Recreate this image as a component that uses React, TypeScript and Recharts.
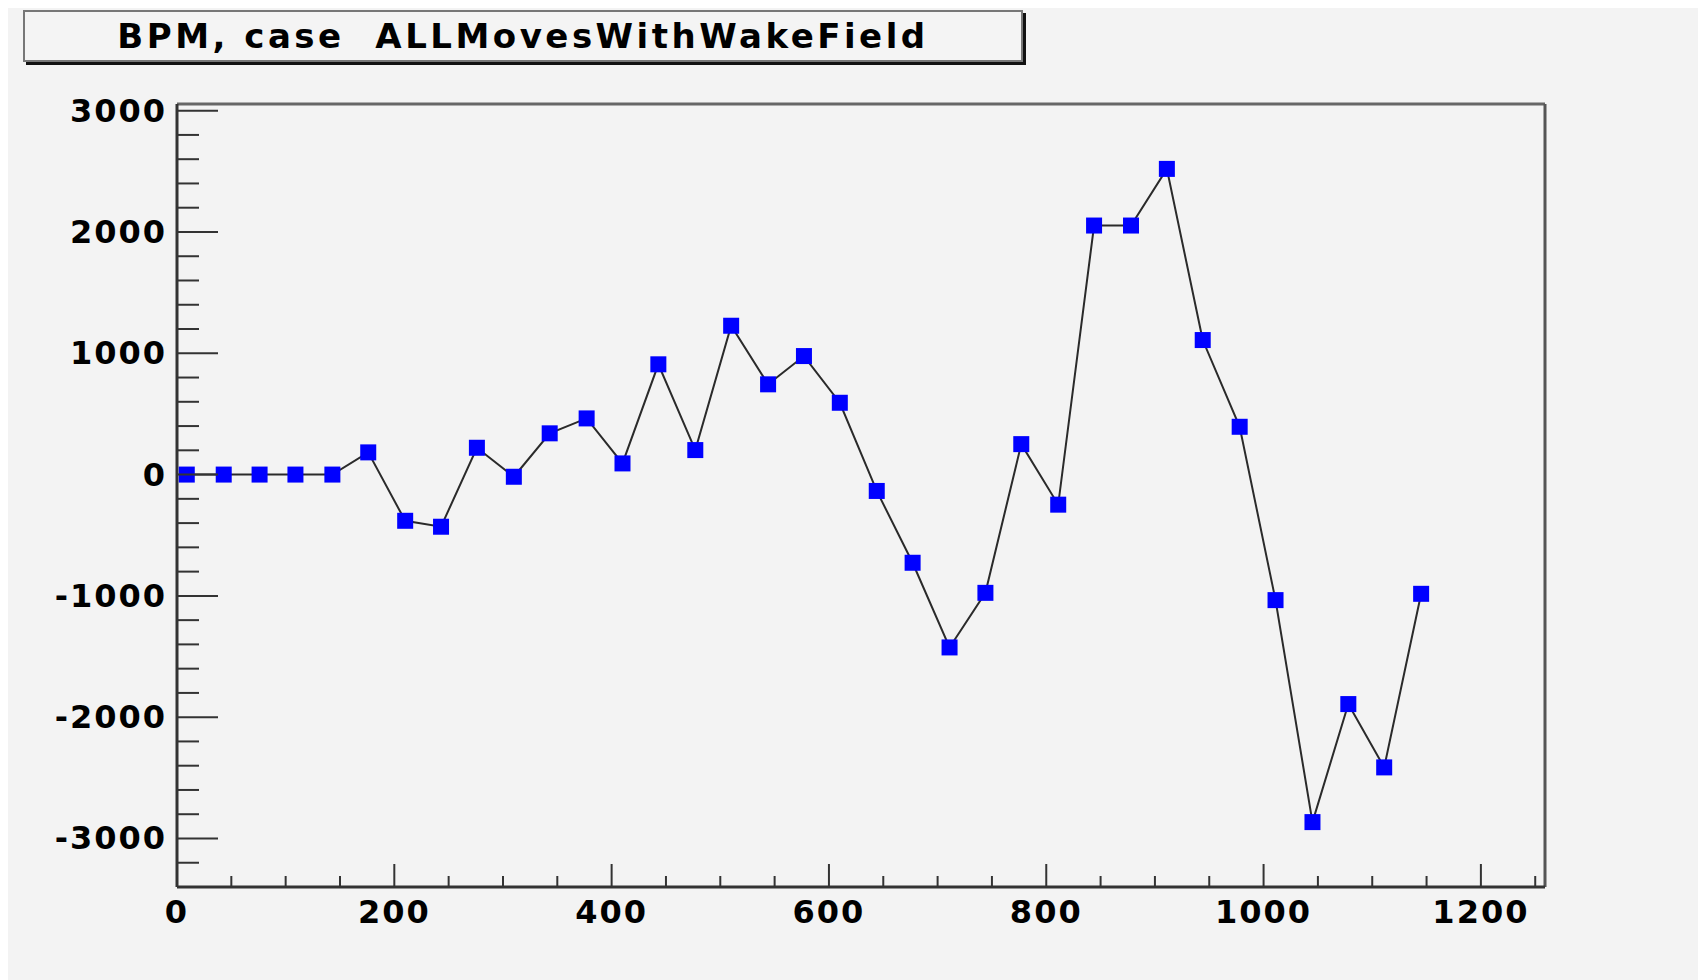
import React from "react";
import { LineChart, Line, XAxis, YAxis, ReferenceLine } from "recharts";

const TITLE = "BPM, case  ALLMovesWithWakeField";

// BPM position along the line
const bpmX = [
  9, 43, 76, 109, 143, 176, 210, 243, 276, 310, 343, 377, 410, 443, 477, 510,
  544, 577, 610, 644, 677, 711, 744, 777, 811, 844, 878, 911, 944, 978, 1011,
  1045, 1078, 1111, 1145,
];

// BPM reading
const bpmY = [
  0, 0, 0, 0, 0, 183, -381, -430, 221, -18, 340, 463, 92, 909, 202, 1227, 744,
  977, 592, -135, -727, -1425, -975, 251, -248, 2053, 2053, 2520, 1109, 394,
  -1035, -2865, -1892, -2414, -983,
];

const xTicks = [
  0, 50, 100, 150, 200, 250, 300, 350, 400, 450, 500, 550, 600, 650, 700, 750,
  800, 850, 900, 950, 1000, 1050, 1100, 1150, 1200, 1250,
];
const yTicks = [
  -3200, -3000, -2800, -2600, -2400, -2200, -2000, -1800, -1600, -1400, -1200,
  -1000, -800, -600, -400, -200, 0, 200, 400, 600, 800, 1000, 1200, 1400, 1600,
  1800, 2000, 2200, 2400, 2600, 2800, 3000,
];

const X_MAX = 1259;
const Y_MIN = -3400;
const Y_MAX = 3055;

const data = bpmX.map((x, i) => ({ x, y: bpmY[i] }));

const FONT = "'DejaVu Sans', sans-serif";
const AXIS = "#333";

const YTick = (props: any) => {
  const { x, y, payload } = props;
  const major = payload.value % 1000 === 0;
  return (
    <g>
      <line x1={x} x2={x + (major ? 41 : 22)} y1={y} y2={y} stroke={AXIS} strokeWidth={2} />
      {major && (
        <text
          x={x - 10}
          y={y}
          textAnchor="end"
          dominantBaseline="central"
          fontFamily={FONT}
          fontWeight="bold"
          fontSize={32}
          letterSpacing={2}
          fill="#000"
        >
          {payload.value}
        </text>
      )}
    </g>
  );
};

const XTick = (props: any) => {
  const { x, y, payload } = props;
  const major = payload.value % 200 === 0;
  return (
    <g>
      <line x1={x} x2={x} y1={y} y2={y - (major ? 23 : 11)} stroke={AXIS} strokeWidth={2} />
      {major && (
        <text
          x={x}
          y={y + 25}
          textAnchor="middle"
          dominantBaseline="central"
          fontFamily={FONT}
          fontWeight="bold"
          fontSize={32}
          letterSpacing={2}
          fill="#000"
        >
          {payload.value}
        </text>
      )}
    </g>
  );
};

const SquareDot = (props: any) => {
  const { cx, cy, index } = props;
  if (cx == null || cy == null) return <g key={index} />;
  return <rect key={index} x={cx - 8} y={cy - 8} width={16} height={16} fill="#0000ff" />;
};

export default function App() {
  return (
    <div style={{ position: "relative", width: 1698, height: 972, background: "#f3f3f3" }}>
      <style>{"body{overflow:hidden}"}</style>
      <div
        style={{
          position: "absolute",
          left: 15,
          top: 2,
          width: 1000,
          height: 52,
          boxSizing: "border-box",
          border: "2px solid #777",
          boxShadow: "3px 3px 0 #111",
          background: "#f4f4f4",
          display: "flex",
          alignItems: "center",
          justifyContent: "center",
          whiteSpace: "pre",
          fontFamily: FONT,
          fontWeight: "bold",
          fontSize: 34,
          letterSpacing: 3.5,
          color: "#000",
        }}
      >
        {TITLE}
      </div>
      <div style={{ position: "absolute", left: 0, top: 0 }}>
        <LineChart
          width={1698}
          height={964}
          data={data}
          margin={{ top: 96, right: 161, bottom: 0, left: 0 }}
        >
          <XAxis
            dataKey="x"
            type="number"
            domain={[0, X_MAX]}
            ticks={xTicks}
            interval={0}
            allowDataOverflow
            height={85}
            tickSize={0}
            tickMargin={0}
            tick={<XTick />}
            axisLine={{ stroke: AXIS, strokeWidth: 3 }}
          />
          <YAxis
            type="number"
            domain={[Y_MIN, Y_MAX]}
            ticks={yTicks}
            interval={0}
            allowDataOverflow
            width={169}
            tickSize={0}
            tickMargin={0}
            tick={<YTick />}
            axisLine={{ stroke: AXIS, strokeWidth: 3 }}
          />
          <ReferenceLine y={Y_MAX} stroke="#666" strokeWidth={3} ifOverflow="visible" />
          <ReferenceLine x={X_MAX} stroke="#555" strokeWidth={3} ifOverflow="visible" />
          <Line
            dataKey="y"
            type="linear"
            stroke="#2a2a2a"
            strokeWidth={2}
            dot={SquareDot}
            activeDot={false}
            isAnimationActive={false}
          />
        </LineChart>
      </div>
    </div>
  );
}
